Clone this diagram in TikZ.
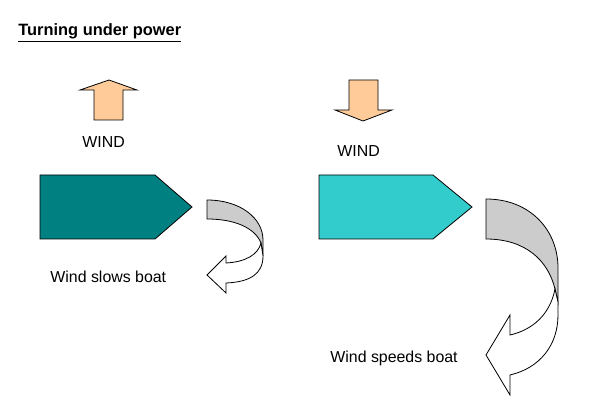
\documentclass[tikz,border=0pt]{standalone}
\usepackage{fontspec}
\setmainfont{Liberation Sans}
\usetikzlibrary{positioning}
\definecolor{cpeach}{HTML}{FFCC99}
\definecolor{cteal}{HTML}{008080}
\definecolor{ccyan}{HTML}{33CCCC}
\definecolor{cgrey}{HTML}{CCCCCC}
\tikzset{
  every picture/.style={line width=0.8pt, line join=miter},
  boat/.style={draw=black, fill=#1},
  boat/.default=cteal,
  wind/.style={draw=black, fill=cpeach},
  turnback/.style={draw=black, fill=cgrey},
  turnfront/.style={draw=black, fill=white},
  note/.style={font=\fontsize{15.9}{18}\selectfont, inner sep=0pt, anchor=base west},
  title/.style={font=\fontsize{16.4}{18}\selectfont\bfseries, inner sep=0pt, anchor=base west},
}

\begin{document}
\begin{tikzpicture}[x=1pt, y=-1pt]
  \useasboundingbox (0,0) rectangle (598,403);
  \node[title] (head) at (18,36) {\underline{Turning under power}};
  % left: wind against the turn
  \draw[wind] (94,120) -- (94,90) -- (80,90) -- (109,80) -- (137,90) -- (123,90) -- (123,120) -- cycle;
  \node[note] (windA) at (82,148) {WIND};
  \draw[boat=cteal] (40,175) -- (155,175) -- (192,207) -- (155,239) -- (40,239) -- cycle;
  \draw[turnback] (207,200) .. controls (240,200) and (263,218) .. (263,240) -- (263,256) -- (261,243)
    .. controls (255,228) and (235,219) .. (207,219) -- cycle;
  \draw[turnfront] (261,243) .. controls (258,255) and (245,262) .. (226,263) -- (226,256) -- (207,275)
    -- (226,293) -- (226,283) .. controls (250,282) and (263,274) .. (263,256) -- cycle;
  \node[note] (slows) at (50,283) {Wind slows boat};
  % right: wind with the turn
  \draw[wind] (349,80) -- (378,80) -- (378,110) -- (392,110) -- (363,121) -- (335,110) -- (349,110) -- cycle;
  \node[note] (windB) at (337,157) {WIND};
  \draw[boat=ccyan] (319,175) -- (433,175) -- (472,207) -- (433,239) -- (319,239) -- cycle;
  \draw[turnback] (486,199) .. controls (530,199) and (558,230) .. (558,268) -- (558,302) -- (555,289)
    .. controls (548,260) and (525,239) .. (486,239) -- cycle;
  \draw[turnfront] (555,289) .. controls (550,315) and (532,330) .. (510,335) -- (510,315) -- (486,355)
    -- (510,395) -- (510,375) .. controls (540,368) and (558,345) .. (558,315) -- (558,302) -- cycle;
  \node[note] (speeds) at (330,363) {Wind speeds boat};
\end{tikzpicture}
\end{document}
